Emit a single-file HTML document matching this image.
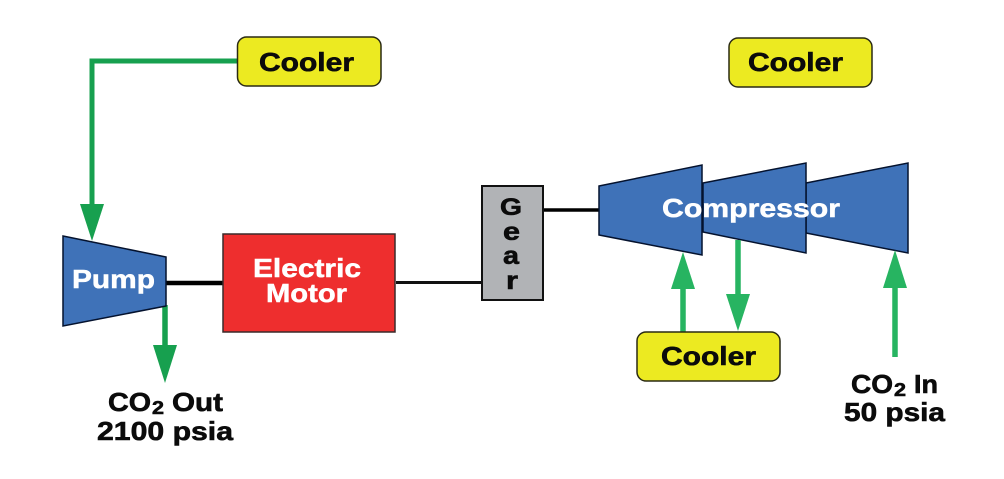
<!DOCTYPE html>
<html>
<head>
<meta charset="utf-8">
<style>
html,body{margin:0;padding:0;background:#fff;}
svg{display:block;}
text{font-family:"Liberation Sans",sans-serif;font-weight:bold;}
.k{fill:#0b0b0b;stroke:#0b0b0b;stroke-width:.6;}
.w{fill:#fff;stroke:#fff;stroke-width:.5;}
</style>
</head>
<body>
<svg width="1004" height="479" viewBox="0 0 1004 479" xmlns="http://www.w3.org/2000/svg">
<rect width="1004" height="479" fill="#fff"/>

<!-- shafts -->
<line x1="166" y1="283" x2="223" y2="283" stroke="#000" stroke-width="4.5"/>
<line x1="396" y1="282.500" x2="482" y2="282.500" stroke="#111" stroke-width="3"/>
<line x1="543" y1="210" x2="600" y2="210" stroke="#000" stroke-width="3.500"/>

<!-- dark green piping -->
<polyline points="237,61 92,61 92,206" fill="none" stroke="#17a04f" stroke-width="5"/>
<polygon points="80,204 104,204 92,241" fill="#17a04f"/>
<line x1="165" y1="305" x2="165" y2="347" stroke="#17a04f" stroke-width="5.500"/>
<polygon points="153,345 177,345 165,383" fill="#17a04f"/>

<!-- pump -->
<polygon points="63,236 166,257 166,306 63,326" fill="#3f72b8" stroke="#04122e" stroke-width="1.500"/>
<text class="w" x="72" y="288" font-size="26" textLength="83" lengthAdjust="spacingAndGlyphs">Pump</text>

<!-- motor -->
<rect x="223" y="234" width="172" height="98" fill="#ee2e2e" stroke="#3a2a2a" stroke-width="1.500"/>
<text class="w" x="253" y="277" font-size="26" textLength="108" lengthAdjust="spacingAndGlyphs">Electric</text>
<text class="w" x="266" y="302" font-size="26" textLength="81" lengthAdjust="spacingAndGlyphs">Motor</text>

<!-- gear -->
<rect x="482" y="186" width="61" height="114" fill="#b1b3b6" stroke="#111" stroke-width="2"/>
<text class="k" x="500" y="215" font-size="24" textLength="22" lengthAdjust="spacingAndGlyphs">G</text>
<text class="k" x="503" y="240" font-size="25" textLength="17" lengthAdjust="spacingAndGlyphs">e</text>
<text class="k" x="503" y="264" font-size="25" textLength="16" lengthAdjust="spacingAndGlyphs">a</text>
<text class="k" x="506" y="289" font-size="25" textLength="12" lengthAdjust="spacingAndGlyphs">r</text>

<!-- compressor stages -->
<polygon points="806,183 908,163 908,253 806,233" fill="#3f72b8" stroke="#04122e" stroke-width="1.500"/>
<polygon points="703,183 806,163 806,253 703,232" fill="#3f72b8" stroke="#04122e" stroke-width="1.500"/>
<polygon points="599,186 702,165 702,255 599,235" fill="#3f72b8" stroke="#04122e" stroke-width="1.500"/>
<text class="w" x="662" y="217" font-size="26" textLength="178" lengthAdjust="spacingAndGlyphs">Compressor</text>

<!-- light green piping -->
<line x1="683" y1="332" x2="683" y2="287" stroke="#27b461" stroke-width="5.500"/>
<polygon points="671,289 695,289 683,252" fill="#27b461"/>
<line x1="738" y1="240" x2="738" y2="296" stroke="#27b461" stroke-width="5.500"/>
<polygon points="726,294 750,294 738,331" fill="#27b461"/>
<line x1="895" y1="357" x2="895" y2="286" stroke="#27b461" stroke-width="5.500"/>
<polygon points="883,288 907,288 895,250" fill="#27b461"/>

<!-- coolers -->
<rect x="237.500" y="37" width="143.500" height="49" rx="9" fill="#ecea21" stroke="#2a2a14" stroke-width="1.500"/>
<text class="k" x="259" y="71" font-size="26" textLength="95" lengthAdjust="spacingAndGlyphs">Cooler</text>
<rect x="729" y="38" width="143" height="49" rx="9" fill="#ecea21" stroke="#2a2a14" stroke-width="1.500"/>
<text class="k" x="748" y="71" font-size="26" textLength="95" lengthAdjust="spacingAndGlyphs">Cooler</text>
<rect x="637" y="332" width="143" height="49" rx="9" fill="#ecea21" stroke="#2a2a14" stroke-width="1.500"/>
<text class="k" x="661" y="365" font-size="26" textLength="95" lengthAdjust="spacingAndGlyphs">Cooler</text>

<!-- labels -->
<text class="k" x="108" y="411" font-size="26" textLength="43" lengthAdjust="spacingAndGlyphs">CO</text>
<text class="k" x="152" y="414" font-size="18" textLength="12" lengthAdjust="spacingAndGlyphs">2</text>
<text class="k" x="172" y="411" font-size="26" textLength="51" lengthAdjust="spacingAndGlyphs">Out</text>
<text class="k" x="97" y="440" font-size="26" textLength="136" lengthAdjust="spacingAndGlyphs">2100 psia</text>

<text class="k" x="851" y="393" font-size="26" textLength="42" lengthAdjust="spacingAndGlyphs">CO</text>
<text class="k" x="894" y="396" font-size="18" textLength="12" lengthAdjust="spacingAndGlyphs">2</text>
<text class="k" x="914" y="393" font-size="26" textLength="24" lengthAdjust="spacingAndGlyphs">In</text>
<text class="k" x="844" y="421" font-size="26" textLength="101" lengthAdjust="spacingAndGlyphs">50 psia</text>
</svg>
</body>
</html>
